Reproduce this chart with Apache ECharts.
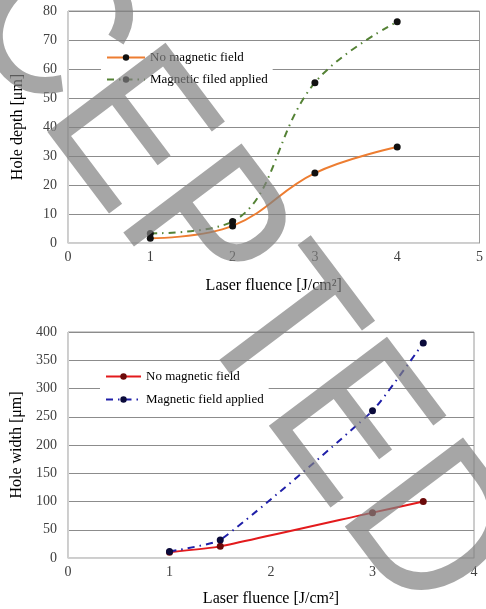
<!DOCTYPE html>
<html>
<head>
<meta charset="utf-8">
<script src="https://cdn.jsdelivr.net/npm/echarts@6/dist/echarts.min.js"></script>
<style>html,body{margin:0;padding:0;background:#fff}#c{width:486px;height:609px}</style>
</head>
<body>
<div id="c"></div>
<script>
// Top chart: hole depth
const depthX = [1, 2, 3, 4];
const depthNoField = [1.6, 5.9, 24.1, 33.1];
const depthField = [3.3, 7.4, 55.3, 76.3];
// Bottom chart: hole width
const widthX = [1, 1.5, 3, 3.5];
const widthNoField = [10.3, 20.6, 80.3, 100];
const widthField = [11.7, 32, 260.5, 380.5];
const seriesNames1 = ['No magnetic field', 'Magnetic filed applied'];
const seriesNames2 = ['No magnetic field ', 'Magnetic field applied'];
const watermarkText = 'ACCEPTED';

const serif = '"Liberation Serif", "Times New Roman", serif';
const pairs = (xs, ys) => xs.map((x, i) => [x, ys[i]]);

const chart = echarts.init(document.getElementById('c'), null, {renderer: 'canvas'});

const axisLabel = {color: '#404040', fontFamily: serif, fontSize: 14};
const nameStyle = {color: '#000', fontFamily: serif, fontSize: 16};

chart.setOption({
  animation: false,
  backgroundColor: '#fff',
  grid: [
    {left: 68, top: 11, right: 1, height: 232, show: true, borderColor: '#9a9a9a', borderWidth: 1},
    {left: 68, top: 332, right: 12, height: 226, show: true, borderColor: '#9a9a9a', borderWidth: 1}
  ],
  xAxis: [
    {gridIndex: 0, type: 'value', min: 0, max: 5, interval: 1,
     axisLine: {show: true, lineStyle: {color: '#d0d0d0'}}, axisTick: {show: false},
     splitLine: {show: false}, axisLabel: Object.assign({margin: 7}, axisLabel),
     name: 'Laser fluence [J/cm²]', nameLocation: 'middle', nameGap: 35, nameTextStyle: nameStyle},
    {gridIndex: 1, type: 'value', min: 0, max: 4, interval: 1,
     axisLine: {show: true, lineStyle: {color: '#d0d0d0'}}, axisTick: {show: false},
     splitLine: {show: false}, axisLabel: Object.assign({margin: 7}, axisLabel),
     name: 'Laser fluence [J/cm²]', nameLocation: 'middle', nameGap: 33, nameTextStyle: nameStyle}
  ],
  yAxis: [
    {gridIndex: 0, type: 'value', min: 0, max: 80, interval: 10,
     axisLine: {show: true, lineStyle: {color: '#d0d0d0'}}, axisTick: {show: false},
     splitLine: {show: true, lineStyle: {color: '#8c8c8c', width: 1}},
     axisLabel: Object.assign({margin: 11}, axisLabel),
     name: 'Hole depth [μm]', nameLocation: 'middle', nameRotate: 90, nameGap: 42, nameTextStyle: nameStyle},
    {gridIndex: 1, type: 'value', min: 0, max: 400, interval: 50,
     axisLine: {show: true, lineStyle: {color: '#d0d0d0'}}, axisTick: {show: false},
     splitLine: {show: true, lineStyle: {color: '#8c8c8c', width: 1}},
     axisLabel: Object.assign({margin: 11}, axisLabel),
     name: 'Hole width [μm]', nameLocation: 'middle', nameRotate: 90, nameGap: 42, nameTextStyle: nameStyle}
  ],
  legend: [
    {data: seriesNames1, left: 101, top: 46, orient: 'vertical',
     itemWidth: 38, itemHeight: 8, itemGap: 9, padding: 5, backgroundColor: '#fff',
     textStyle: {fontFamily: serif, fontSize: 13, color: '#000'}, selectedMode: false},
    {data: seriesNames2, left: 100, top: 365, orient: 'vertical',
     itemWidth: 35, itemHeight: 8, itemGap: 10, padding: 5, backgroundColor: '#fff',
     textStyle: {fontFamily: serif, fontSize: 13, color: '#000'}, selectedMode: false}
  ],
  series: [
    {name: seriesNames1[0], type: 'line', xAxisIndex: 0, yAxisIndex: 0, data: pairs(depthX, depthNoField),
     smooth: 0.4, symbol: 'circle', symbolSize: 7,
     lineStyle: {color: '#ED7D31', width: 2}, itemStyle: {color: '#111'}},
    {name: seriesNames1[1], type: 'line', xAxisIndex: 0, yAxisIndex: 0, data: pairs(depthX, depthField),
     smooth: 0.4, symbol: 'circle', symbolSize: 7,
     lineStyle: {color: '#548235', width: 2, type: [7, 5, 1.5, 5]}, itemStyle: {color: '#111'}},
    {name: seriesNames2[0], type: 'line', xAxisIndex: 1, yAxisIndex: 1, data: pairs(widthX, widthNoField),
     smooth: 0.15, symbol: 'circle', symbolSize: 7,
     lineStyle: {color: '#E31A1C', width: 2}, itemStyle: {color: '#6b0a0a'}},
    {name: seriesNames2[1], type: 'line', xAxisIndex: 1, yAxisIndex: 1, data: pairs(widthX, widthField),
     smooth: 0.15, symbol: 'circle', symbolSize: 7,
     lineStyle: {color: '#1f1fa8', width: 2, type: [7, 5, 1.5, 5]}, itemStyle: {color: '#0a0a3a'}}
  ],
  graphic: [
    {type: 'text', x: 155, y: 176, rotation: -53 * Math.PI / 180, scaleX: 0.88, z: 100, silent: true,
     style: {text: watermarkText, x: 0, y: 0, align: 'center', verticalAlign: 'middle',
       fontFamily: '"Liberation Sans", Arial, sans-serif',
       fontSize: 215, fill: 'rgba(128,128,128,0.7)'}}
  ]
});
</script>
</body>
</html>
